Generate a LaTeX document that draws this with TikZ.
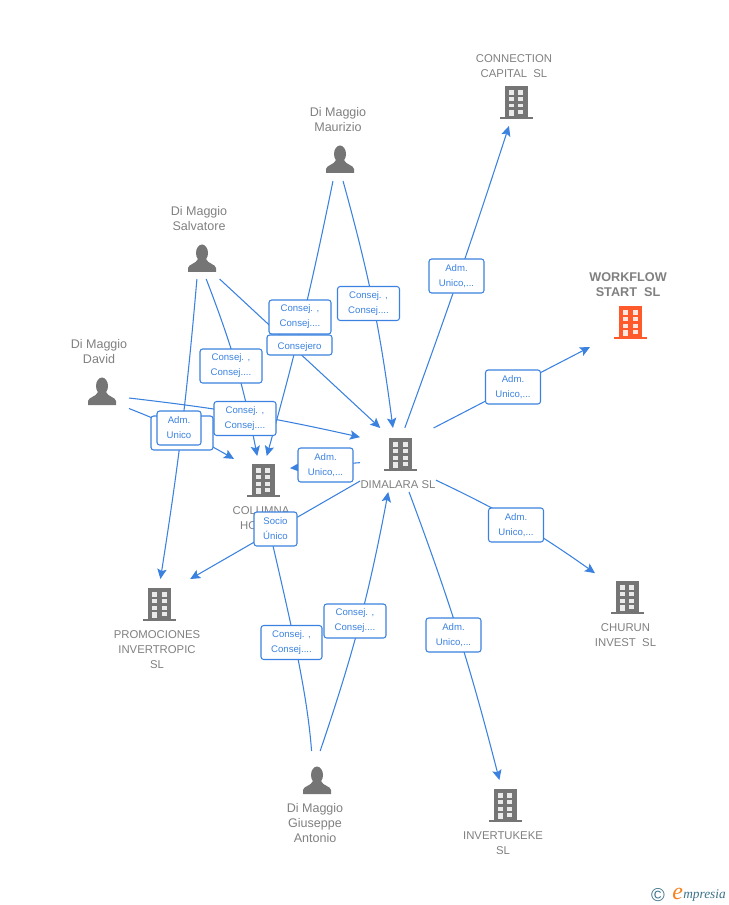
\documentclass[tikz,border=0pt]{standalone}
\usepackage{fontspec}
\setmainfont{Liberation Sans}
\newfontfamily\logofont{Liberation Serif}
\usetikzlibrary{arrows.meta}
\definecolor{linkblue}{HTML}{3B82E0}
\definecolor{namegray}{HTML}{808080}
\definecolor{icongray}{HTML}{757575}
\definecolor{iconorange}{HTML}{FF5A2B}
\definecolor{logoteal}{HTML}{3C7288}
\definecolor{logoorange}{HTML}{F5821F}
\begin{document}
\begin{tikzpicture}[x=0.75pt,y=-0.75pt]
  \tikzset{
    region/.style 2 args={rectangle,inner sep=0,outer sep=0,minimum width=#1*0.75pt,minimum height=#2*0.75pt},
    link/.style={draw=linkblue,line width=0.8pt,-{Stealth[length=7.5pt,width=7pt,inset=1.5pt]}},
    linkbox/.style 2 args={region={#1}{#2},draw=linkblue,line width=0.8pt,fill=white,rounded corners=2pt,
      align=center,text=linkblue,font=\fontsize{7.2}{11.25}\selectfont,
      execute at begin node={\rule{0pt}{8pt}}},
    personname/.style={align=center,text=namegray,font=\fontsize{9.4}{11.25}\selectfont},
    firmname/.style={align=center,text=namegray,font=\fontsize{8.5}{11.25}\selectfont},
    pics/building/.style={code={
      \fill[#1] (-11.5,-17) rectangle (11.5,15);
      \fill[#1] (-16.5,14) rectangle (16.5,16);
      \foreach \r/\h in {-13.3/5,-6/4.2,0.7/3.8} {
        \fill[white,opacity=.85] (-7.5,\r) rectangle +(5,\h);
        \fill[white,opacity=.85] (2.2,\r) rectangle +(5,\h);
      }
      \fill[white,opacity=.85] (-7.5,6.7) rectangle (-2.5,13);
      \fill[white,opacity=.85] (2.2,6.7) rectangle (7.2,10.7);
    }},
    pics/building/.default=icongray,
    pics/person/.style={code={
      \fill[icongray] (0,-6) ellipse (6 and 8.5);
      \fill[icongray] (-14,13) -- (-14,9) .. controls (-13.5,5) and (-6,5) .. (-4,0)
        -- (4,0) .. controls (6,5) and (13.5,5) .. (14,9) -- (14,13) -- cycle;
    }}
  }
  \useasboundingbox (0,0) rectangle (728,905);

  \node[region={70}{82}] (maurizio) at (338,140) {};
  \node[region={60}{88}] (salvatore) at (200,235) {};
  \node[region={58}{84}] (david) at (100,370) {};
  \node[region={60}{98}] (giuseppe) at (315,800) {};
  \node[region={76}{64}] (dimalara) at (398,460) {};
  \node[region={56}{68}] (columna) at (262,490) {};
  \node[region={90}{92}] (promociones) at (158,625) {};
  \node[region={80}{72}] (connection) at (514,90) {};
  \node[region={80}{80}] (workflow) at (630,307) {};
  \node[region={64}{74}] (churun) at (627,610) {};
  \node[region={80}{80}] (invertukeke) at (505,820) {};

  \pic at (340,160) {person};
  \pic at (202,259) {person};
  \pic at (102,392) {person};
  \pic at (317,781) {person};
  \pic at (400.5,455) {building};
  \pic at (263,481) {building};
  \pic at (159.5,605) {building};
  \pic at (516,103) {building};
  \pic at (630.5,323) {building=iconorange};
  \pic at (627,598) {building};
  \pic at (505,806) {building};

  \node[personname] (mauriziotext) at (338,119.5) {Di Maggio\\Maurizio};
  \node[personname] (salvatoretext) at (199,218.5) {Di Maggio\\Salvatore};
  \node[personname] (davidtext) at (99,351.5) {Di Maggio\\David};
  \node[personname] (giuseppetext) at (315,823) {Di Maggio\\Giuseppe\\Antonio};
  \node[firmname] (dimalaratext) at (398,485) {DIMALARA SL};
  \node[firmname] (columnatext) at (261,518.5) {COLUMNA\\HOMES};
  \node[firmname] (promocionestext) at (157,650) {PROMOCIONES\\INVERTROPIC\\SL};
  \node[firmname] (connectiontext) at (514,66.5) {CONNECTION\\CAPITAL\ \ SL};
  \node[firmname,font=\fontsize{9.5}{11.25}\bfseries\selectfont] (workflowtext) at (628,284.5) {WORKFLOW\\START\ \ SL};
  \node[firmname] (churuntext) at (625.5,635.5) {CHURUN\\INVEST\ \ SL};
  \node[firmname] (invertukeketext) at (503,843.5) {INVERTUKEKE\\SL};

  \draw[link] (maurizio.277) to[bend left=4] (dimalara.99);
  \draw[link] (maurizio.263) to[bend left=2] (columna.82);
  \draw[link] (salvatore.294) -- (dimalara.119);
  \draw[link] (salvatore.278) to[bend left=5] (columna.98);
  \draw[link] (salvatore.266) to[bend left=2] (promociones.87.5);
  \draw[link] (david.316) to[bend left=3] (dimalara.149);
  \draw[link] (david.307) to[bend left=4] (columna.132);
  \draw[link] (dimalara.184) -- (columna.38);
  \draw[link] (dimalara.209) -- (promociones.55);
  \draw[link] (giuseppe.94.7) .. controls (307,690) and (290,620) .. (columna.280);
  \draw[link] (giuseppe.84) to[bend right=4] (dimalara.253);
  \draw[link] (dimalara.78) to[bend right=1] (connection.262);
  \draw[link] (dimalara.42) -- (workflow.225);
  \draw[link] (dimalara.332) to[bend left=5] (churun.131);
  \draw[link] (dimalara.289) to[bend left=3] (invertukeke.98.6);

  \node[linkbox={62}{34}] (box1) at (300,317) {Consej. ,\\Consej....};
  \node[linkbox={65}{20}] (box2) at (299.5,345) {Consejero};
  \node[linkbox={62}{34}] (box3) at (368.5,303.5) {Consej. ,\\Consej....};
  \node[linkbox={62}{34}] (box4) at (231,366) {Consej. ,\\Consej....};
  \node[linkbox={62}{34}] (box5) at (245,418.5) {Consej. ,\\Consej....};
  \node[linkbox={62}{34}] (box6) at (182,433) {Adm.\\Unico,...};
  \node[linkbox={44}{34}] (box7) at (179,428) {Adm.\\Unico};
  \node[linkbox={55}{34}] (box8) at (325.5,465) {Adm.\\Unico,...};
  \node[linkbox={43}{34}] (box9) at (275.5,529) {Socio\\Único};
  \node[linkbox={61}{34}] (box10) at (291.5,642.5) {Consej. ,\\Consej....};
  \node[linkbox={62}{34}] (box11) at (355,621) {Consej. ,\\Consej....};
  \node[linkbox={55}{34}] (box12) at (456.5,276) {Adm.\\Unico,...};
  \node[linkbox={55}{34}] (box13) at (513,387) {Adm.\\Unico,...};
  \node[linkbox={55}{34}] (box14) at (516,525) {Adm.\\Unico,...};
  \node[linkbox={55}{34}] (box15) at (453.5,635) {Adm.\\Unico,...};

  \node[text=logoteal,inner sep=0,font=\fontsize{14}{14}\selectfont] (logocopy) at (658,895) {©};
  \node[anchor=base west,inner sep=0,text=logoorange,font=\logofont\itshape\fontsize{18}{18}\selectfont] (logoe) at (672,899) {e};
  \node[anchor=base west,inner sep=0,text=logoteal,font=\logofont\itshape\fontsize{10}{10}\selectfont] (logotext) at (683,898) {mpresia};
\end{tikzpicture}
\end{document}
